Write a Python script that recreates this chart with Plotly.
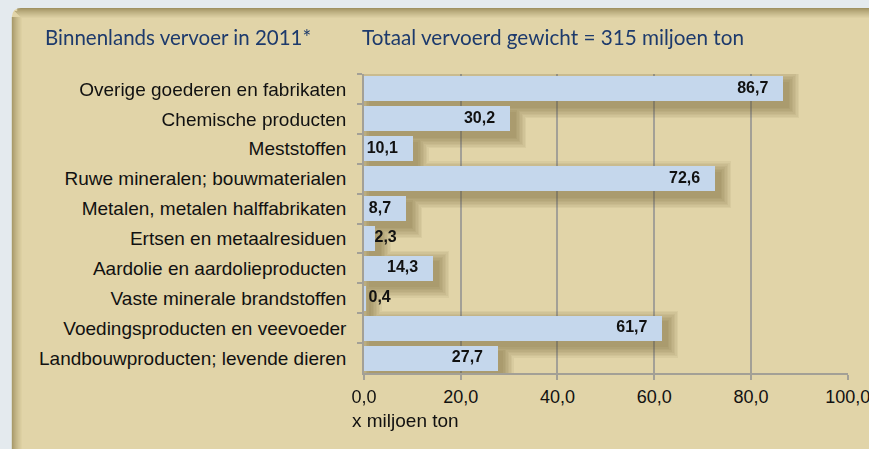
import plotly.graph_objects as go

categories = [
    "Overige goederen en fabrikaten",
    "Chemische producten",
    "Meststoffen",
    "Ruwe mineralen; bouwmaterialen",
    "Metalen, metalen halffabrikaten",
    "Ertsen en metaalresiduen",
    "Aardolie en aardolieproducten",
    "Vaste minerale brandstoffen",
    "Voedingsproducten en veevoeder",
    "Landbouwproducten; levende dieren",
]
values = [86.7, 30.2, 10.1, 72.6, 8.7, 2.3, 14.3, 0.4, 61.7, 27.7]
value_labels = ["86,7", "30,2", "10,1", "72,6", "8,7", "2,3", "14,3", "0,4", "61,7", "27,7"]
tick_vals = [0, 20, 40, 60, 80, 100]
tick_text = ["0,0", "20,0", "40,0", "60,0", "80,0", "100,0"]

W, H = 869, 449
L, R, T, B = 363.5, 21.0, 74, 76
PW, PH = W - L - R, H - T - B
XMAX = 100.0 * PW / (847.7 - 363.5)
PX_PER_UNIT = PW / XMAX
ROW_PX = PH / len(categories)

BEIGE = "#E1D4A8"
OUTER = "#E4EAEE"
BAR = "#C5D7EC"
GRID = "#A3A096"
NAVY = "#1D3A6C"


def px_x(p):
    return (p - L) / PW


def px_y(p):
    return (H - B - p) / PH


fig = go.Figure()

# soft drop shadows behind bars (derived from values)
bar_w = 25.0 / ROW_PX
for k in range(8):
    s = 0.5 + k * 1.5
    dx = (5.0 - s) / PX_PER_UNIT
    ext = 2 * s / PX_PER_UNIT
    w = (25.0 + 2 * s) / ROW_PX
    fig.add_trace(go.Bar(
        y=categories, x=[v + ext if v > 0 else 0 for v in values], base=dx,
        orientation="h", width=w, offset=-w / 2 + 6.0 / ROW_PX,
        marker=dict(color="rgb(95,80,35)", line=dict(width=0)), opacity=0.065,
        hoverinfo="skip", showlegend=False,
    ))

fig.add_trace(go.Bar(
    y=categories, x=values, orientation="h", width=bar_w,
    marker=dict(color=BAR, line=dict(width=0)),
    hoverinfo="skip", showlegend=False,
))

# value labels: right-aligned near the bar end, or left-aligned when the bar is too short
right_x, right_y, right_t = [], [], []
left_x, left_y, left_t = [], [], []
for c, v, t in zip(categories, values, value_labels):
    width_units = (8.9 * sum(ch.isdigit() for ch in t) + 4.45) / PX_PER_UNIT
    if v - 3.3 - width_units >= 0:
        right_x.append(v - 3.1)
        right_y.append(c)
        right_t.append(t)
    else:
        left_x.append(max(v - 0.13, 0.93))
        left_y.append(c)
        left_t.append(t)

label_font = dict(family="Liberation Sans, Arial", size=16, color="#111111", weight="bold")
fig.add_trace(go.Scatter(
    y=right_y, x=right_x, mode="text", text=right_t, textposition="middle left",
    textfont=label_font, hoverinfo="skip", showlegend=False, cliponaxis=False,
))
fig.add_trace(go.Scatter(
    y=left_y, x=left_x, mode="text", text=left_t, textposition="middle right",
    textfont=label_font, hoverinfo="skip", showlegend=False, cliponaxis=False,
))

shapes = []
r = 9
x0, y0, x1, y1 = 11, 8, 880, 470
path = (f"M {px_x(x0)},{px_y(y0 + r)} Q {px_x(x0)},{px_y(y0)} {px_x(x0 + r)},{px_y(y0)} "
        f"L {px_x(x1)},{px_y(y0)} L {px_x(x1)},{px_y(y1)} L {px_x(x0)},{px_y(y1)} Z")
shapes.append(dict(type="path", xref="paper", yref="paper", path=path,
                   fillcolor=BEIGE, line=dict(width=0), layer="below"))


def mix(c1, c2, t):
    return "rgb(%d,%d,%d)" % tuple(round(a + (b - a) * t) for a, b in zip(c1, c2))


dark = (160, 146, 98)
beige_rgb = (225, 212, 168)
N = 10
for i in range(N):
    t = i / N
    col = mix(dark, beige_rgb, t ** 0.8)
    shapes.append(dict(type="rect", xref="paper", yref="paper",
                       x0=px_x(x0 + r * 0.6 if i < 3 else x0 + i), x1=px_x(x1),
                       y0=px_y(y0 + i + 1), y1=px_y(y0 + i),
                       fillcolor=col, line=dict(width=0), layer="below"))
for i in range(N):
    t = i / N
    col = mix(dark, beige_rgb, t ** 0.8)
    shapes.append(dict(type="rect", xref="paper", yref="paper",
                       x0=px_x(x0 + i), x1=px_x(x0 + i + 1),
                       y0=px_y(y0 + max(i, r)), y1=px_y(y1),
                       fillcolor=col, line=dict(width=0), layer="below"))
shapes.append(dict(type="path", xref="paper", yref="paper",
                   path=(f"M {px_x(x0 - 2)},{px_y(y0 - 2)} L {px_x(x0 + r)},{px_y(y0 - 2)} "
                         f"L {px_x(x0 + r)},{px_y(y0)} Q {px_x(x0)},{px_y(y0)} {px_x(x0)},{px_y(y0 + r)} "
                         f"L {px_x(x0 - 2)},{px_y(y0 + r)} Z"),
                   fillcolor=OUTER, line=dict(width=0), layer="below"))

annotations = [
    dict(text="Binnenlands vervoer in 2011*", xref="paper", yref="paper",
         x=px_x(42), y=px_y(37), xanchor="left", yanchor="middle", showarrow=False,
         font=dict(family="Lato, Noto Sans", size=20.5, color=NAVY)),
    dict(text="Totaal vervoerd gewicht = 315 miljoen ton", xref="paper", yref="paper",
         x=px_x(359), y=px_y(37), xanchor="left", yanchor="middle", showarrow=False,
         font=dict(family="Lato, Noto Sans", size=20.7, color=NAVY)),
    dict(text="x miljoen ton", xref="paper", yref="paper",
         x=px_x(349), y=px_y(420), xanchor="left", yanchor="middle", showarrow=False,
         font=dict(family="Liberation Sans, Arial", size=19, color="#111111")),
]

n = len(categories)
fig.update_layout(
    width=W, height=H,
    margin=dict(l=L, r=R, t=T, b=B, pad=0, autoexpand=False),
    paper_bgcolor=OUTER, plot_bgcolor="rgba(0,0,0,0)",
    barmode="overlay", bargap=0,
    shapes=shapes, annotations=annotations,
    font=dict(family="Liberation Sans, Arial", size=18, color="#111111"),
    xaxis=dict(range=[0, XMAX], tickvals=tick_vals, ticktext=tick_text,
               showgrid=True, gridcolor=GRID, gridwidth=1.5,
               showline=True, linecolor=GRID, linewidth=1.5,
               ticks="outside", ticklen=5, tickcolor=GRID, tickwidth=1.5,
               zeroline=False, fixedrange=True, ticklabeloverflow="allow",
               ticklabelstandoff=2, automargin=False,
               tickfont=dict(size=18, color="#111111")),
    yaxis=dict(type="category", categoryorder="array", categoryarray=categories,
               range=[n - 0.5, -0.5], autorange=False, tickson="boundaries",
               showline=True, linecolor=GRID, linewidth=1.5,
               ticks="outside", ticklen=5, tickcolor=GRID, tickwidth=1.5,
               showgrid=False, fixedrange=True, ticklabelstandoff=12, automargin=False,
               tickfont=dict(size=19, color="#111111")),
)

fig.write_html("out.html", config={"displayModeBar": False},
               post_script="document.body.style.margin='0';document.body.style.overflow='hidden';")
